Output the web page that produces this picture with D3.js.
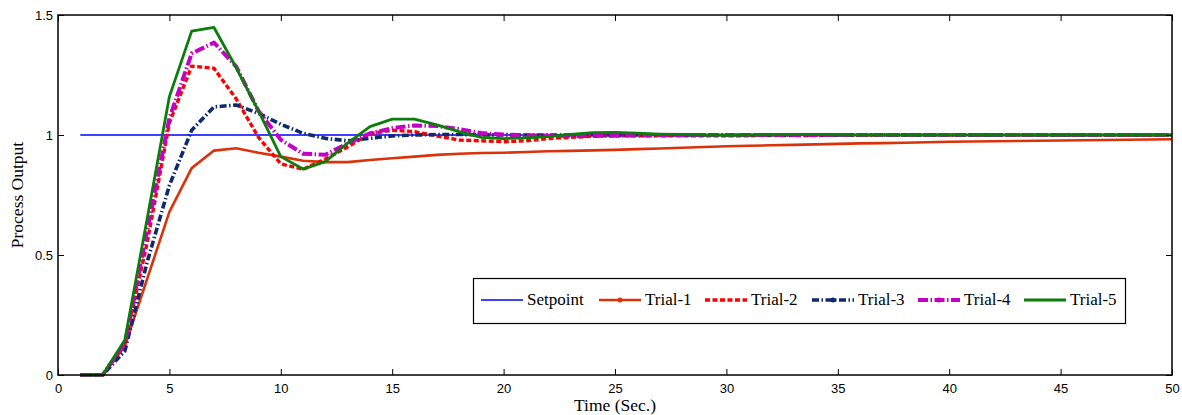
<!DOCTYPE html>
<html>
<head>
<meta charset="utf-8">
<script src="https://cdn.jsdelivr.net/npm/d3@7"></script>
<style>
  body { margin: 0; background: #fff; }
</style>
</head>
<body>
<div id="chart"></div>
<script>
// time samples (sec.)
var time = [1, 2, 3, 4, 5, 6, 7, 8, 9, 10,
  11, 12, 13, 14, 15, 16, 17, 18, 19, 20,
  21, 22, 23, 24, 25, 26, 27, 28, 29, 30,
  31, 32, 33, 34, 35, 36, 37, 38, 39, 40,
  41, 42, 43, 44, 45, 46, 47, 48, 49, 50];

var setpoint = [1, 1, 1, 1, 1, 1, 1, 1, 1, 1,
  1, 1, 1, 1, 1, 1, 1, 1, 1, 1,
  1, 1, 1, 1, 1, 1, 1, 1, 1, 1,
  1, 1, 1, 1, 1, 1, 1, 1, 1, 1,
  1, 1, 1, 1, 1, 1, 1, 1, 1, 1];

var trial1 = [0, 0, 0.12, 0.40, 0.68, 0.862, 0.935, 0.945, 0.926, 0.91,
  0.893, 0.887, 0.887, 0.896, 0.903, 0.91, 0.917, 0.922, 0.925, 0.926,
  0.929, 0.932, 0.934, 0.936, 0.938, 0.941, 0.944, 0.947, 0.950, 0.953,
  0.955, 0.957, 0.959, 0.961, 0.963, 0.965, 0.966, 0.968, 0.970, 0.972,
  0.973, 0.974, 0.975, 0.976, 0.977, 0.978, 0.979, 0.980, 0.981, 0.982];

var trial2 = [0, 0, 0.13, 0.55, 1.05, 1.287, 1.278, 1.15, 0.99, 0.88,
  0.857, 0.90, 0.95, 1.006, 1.02, 1.014, 0.996, 0.979, 0.976, 0.972,
  0.976, 0.985, 0.99, 0.995, 0.997, 0.997, 0.997, 0.997, 0.997, 0.997,
  0.997, 0.998, 0.998, 0.998, 0.999, 0.999, 1, 1, 1, 1,
  1, 1, 1, 1, 1, 1, 1, 1, 1, 1];

var trial3 = [0, 0, 0.10, 0.47, 0.79, 1.02, 1.117, 1.125, 1.09, 1.045,
  1.007, 0.986, 0.976, 0.986, 0.996, 1.0, 1.002, 1.002, 1.001, 1.0,
  1, 1, 1, 1, 1, 1, 1, 1, 1, 1,
  1, 1, 1, 1, 1, 1, 1, 1, 1, 1,
  1, 1, 1, 1, 1, 1, 1, 1, 1, 1];

var trial4 = [0, 0, 0.13, 0.60, 1.07, 1.34, 1.385, 1.285, 1.10, 0.98,
  0.922, 0.918, 0.965, 1.007, 1.028, 1.04, 1.037, 1.025, 1.008, 1.002,
  0.999, 0.997, 0.996, 0.996, 0.997, 0.998, 0.999, 1, 1, 1,
  1, 1, 1, 1, 1, 1, 1, 1, 1, 1,
  1, 1, 1, 1, 1, 1, 1, 1, 1, 1];

var trial5 = [0, 0, 0.146, 0.65, 1.16, 1.433, 1.448, 1.28, 1.10, 0.91,
  0.858, 0.889, 0.966, 1.035, 1.066, 1.066, 1.042, 1.014, 0.99, 0.985,
  0.988, 0.993, 1.003, 1.01, 1.011, 1.008, 1.004, 1.002, 1.0, 0.999,
  1.0, 1.001, 1.002, 1.002, 1.001, 1.0, 1.0, 1.0, 1.0, 1.0,
  1, 1, 1, 1, 1, 1, 1, 1, 1, 1];

var xTicks = [0, 5, 10, 15, 20, 25, 30, 35, 40, 45, 50];
var yTicks = [0, 0.5, 1, 1.5];

var series = [
  { name: "Setpoint", values: setpoint, color: "#0000ff", width: 1.6, dash: null, marker: false },
  { name: "Trial-1", values: trial1, color: "#dc320a", width: 2.6, dash: null, marker: true },
  { name: "Trial-2", values: trial2, color: "#ff0000", width: 3.4, dash: "5,2.5", marker: false },
  { name: "Trial-3", values: trial3, color: "#0f2a6c", width: 3.6, dash: "7,2.5,1.5,2.5", marker: true },
  { name: "Trial-4", values: trial4, color: "#c400c4", width: 4, dash: "10,2.5,1.5,2.5", marker: true },
  { name: "Trial-5", values: trial5, color: "#0a7d0a", width: 2.8, dash: null, marker: false }
];

const width = 1182
const height = 415
const margin = { left: 58, right: 10, top: 15, bottom: 40 }

const svg = d3.select("#chart")
  .append("svg")
  .attr("width", width)
  .attr("height", height)

var x = d3.scaleLinear().domain([0, 50]).range([margin.left, width - margin.right]);
var y = d3.scaleLinear().domain([0, 1.5]).range([height - margin.bottom, margin.top]);

var line = d3.line()
  .x(function (d, i) { return x(time[i]); })
  .y(function (d) { return y(d); });

// curves
series.forEach(function (s) {
  svg.append("path")
    .datum(s.values)
    .attr("fill", "none")
    .attr("stroke", s.color)
    .attr("stroke-width", s.width)
    .attr("stroke-dasharray", s.dash)
    .attr("stroke-linejoin", "round")
    .attr("d", line);
});

// axes, ticks inward on all four sides
var tickFont = "Liberation Sans, Arial, sans-serif";

svg.append("g")
  .attr("transform", "translate(0," + y(0) + ")")
  .call(d3.axisBottom(x).tickValues(xTicks).tickSize(-6).tickPadding(9).tickFormat(d3.format("d")))
  .call(function (g) { g.select(".domain").remove(); })
  .selectAll("text").attr("font-family", tickFont).attr("font-size", "13px").attr("fill", "#000");

svg.append("g")
  .attr("transform", "translate(0," + y(1.5) + ")")
  .call(d3.axisTop(x).tickValues(xTicks).tickSize(-6).tickFormat(""))
  .call(function (g) { g.select(".domain").remove(); });

svg.append("g")
  .attr("transform", "translate(" + x(0) + ",0)")
  .call(d3.axisLeft(y).tickValues(yTicks).tickSize(-6).tickPadding(5).tickFormat(d3.format("")))
  .call(function (g) { g.select(".domain").remove(); })
  .selectAll("text").attr("font-family", tickFont).attr("font-size", "13px").attr("fill", "#000");

svg.append("g")
  .attr("transform", "translate(" + x(50) + ",0)")
  .call(d3.axisRight(y).tickValues(yTicks).tickSize(-6).tickFormat(""))
  .call(function (g) { g.select(".domain").remove(); });

svg.selectAll(".tick line").attr("stroke", "#000").attr("stroke-width", 1);

// frame
svg.append("rect")
  .attr("x", x(0))
  .attr("y", y(1.5))
  .attr("width", x(50) - x(0))
  .attr("height", y(0) - y(1.5))
  .attr("fill", "none")
  .attr("stroke", "#000")
  .attr("stroke-width", 1.5);

// axis titles
svg.append("text")
  .attr("x", (x(0) + x(50)) / 2)
  .attr("y", 411)
  .attr("text-anchor", "middle")
  .attr("font-family", "Liberation Serif, Times New Roman, serif")
  .attr("font-size", "17.5px")
  .text("Time (Sec.)");

svg.append("text")
  .attr("transform", "translate(23," + y(0.75) + ") rotate(-90)")
  .attr("text-anchor", "middle")
  .attr("font-family", "Liberation Serif, Times New Roman, serif")
  .attr("font-size", "17.5px")
  .text("Process Output");

// legend
var legendX = [481, 599, 705, 812, 918, 1024];
var legend = svg.append("g");

legend.append("rect")
  .attr("x", 473.5)
  .attr("y", 278.5)
  .attr("width", 652)
  .attr("height", 45)
  .attr("fill", "#fff")
  .attr("stroke", "#000")
  .attr("stroke-width", 1.2);

series.forEach(function (s, i) {
  var lx = legendX[i];
  var ly = 300;
  legend.append("line")
    .attr("x1", lx).attr("x2", lx + 42)
    .attr("y1", ly).attr("y2", ly)
    .attr("stroke", s.color)
    .attr("stroke-width", s.width)
    .attr("stroke-dasharray", s.dash);
  if (s.marker) {
    legend.append("circle")
      .attr("cx", lx + 21).attr("cy", ly)
      .attr("r", 2.5)
      .attr("fill", s.color);
  }
  legend.append("text")
    .attr("x", lx + 46)
    .attr("y", ly + 5)
    .attr("font-family", "Liberation Serif, Times New Roman, serif")
    .attr("font-size", "17px")
    .text(s.name);
});
</script>
</body>
</html>
